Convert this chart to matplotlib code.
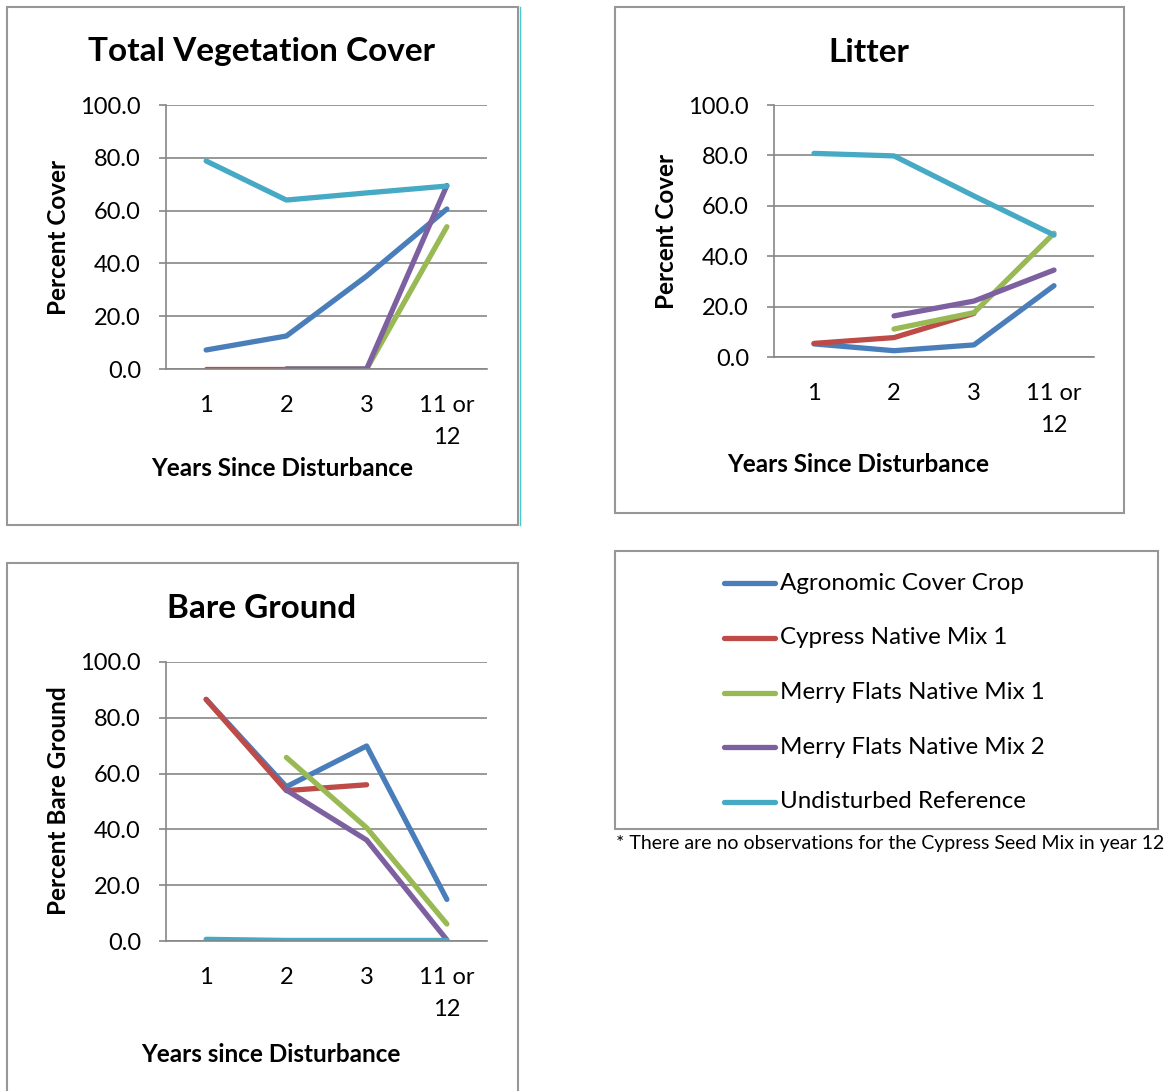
import numpy as np
import matplotlib
matplotlib.use("Agg")
import matplotlib.pyplot as plt
from matplotlib.patches import Rectangle
from matplotlib.lines import Line2D
from matplotlib.ticker import FormatStrFormatter

plt.rcParams["font.family"] = ["Lato", "DejaVu Sans"]

nan = np.nan

# category axis
years = ["1", "2", "3", "11 or\n12"]

series_names = [
    "Agronomic Cover Crop",
    "Cypress Native Mix 1",
    "Merry Flats Native Mix 1",
    "Merry Flats Native Mix 2",
    "Undisturbed Reference",
]

# Total vegetation cover (%)
veg_agronomic = [7.2, 12.5, 35.2, 60.6]
veg_cypress = [0.0, 0.0, 0.0, nan]
veg_merry1 = [nan, 0.0, 0.0, 53.9]
veg_merry2 = [nan, 0.0, 0.0, 69.5]
veg_reference = [78.8, 64.0, 66.7, 69.3]

# Litter cover (%)
litter_agronomic = [5.2, 2.5, 4.8, 28.3]
litter_cypress = [5.4, 7.7, 17.3, nan]
litter_merry1 = [nan, 11.1, 17.6, 49.1]
litter_merry2 = [nan, 16.3, 22.2, 34.5]
litter_reference = [80.8, 79.8, 63.9, 48.4]

# Bare ground (%)
bare_agronomic = [86.6, 55.3, 69.9, 14.9]
bare_cypress = [86.6, 53.9, 56.0, nan]
bare_merry1 = [nan, 65.8, 40.6, 6.1]
bare_merry2 = [nan, 54.1, 36.2, 0.4]
bare_reference = [0.6, 0.2, 0.2, 0.2]

colors = ["#4A7EBB", "#BE4B48", "#98B954", "#7D60A0", "#46AAC5"]

W, H = 1166, 1091
fig = plt.figure(figsize=(W / 100, H / 100), dpi=100)


def fx(px):
    return px / W


def fy(py):
    return 1 - py / H


def box(l, t, r, b, color="#979797"):
    fig.patches.append(Rectangle((fx(l), fy(b)), fx(r - l), (b - t) / H,
                                 transform=fig.transFigure, fill=False,
                                 edgecolor=color, linewidth=1.5))


def panel(l, t, r, b, data, title, title_xy, ylabel, ylabel_xy, xlabel, xlabel_xy):
    ax = fig.add_axes([fx(l), fy(b), fx(r - l), (b - t) / H])
    x = np.arange(len(years))
    for vals, c in zip(data, colors):
        ax.plot(x, vals, color=c, linewidth=3.8, solid_capstyle="round",
                solid_joinstyle="round")
    ax.set_xlim(-0.5, len(years) - 0.5)
    ax.set_ylim(0, 100)
    ax.set_yticks(np.arange(0, 101, 20))
    ax.yaxis.set_major_formatter(FormatStrFormatter("%.1f"))
    ax.set_xticks(x)
    ax.set_xticklabels(years, fontsize=17, linespacing=1.62)
    ax.tick_params(axis="x", length=0, pad=19)
    ax.tick_params(axis="y", length=5, color="#868686", width=1.2,
                   labelsize=17, pad=13)
    ax.grid(axis="y", color="#868686", linewidth=1.2)
    ax.set_axisbelow(True)
    for s in ["top", "right"]:
        ax.spines[s].set_visible(False)
    for s in ["left", "bottom"]:
        ax.spines[s].set_color("#868686")
        ax.spines[s].set_linewidth(1.2)
    fig.text(fx(title_xy[0]), fy(title_xy[1]), title, fontsize=24,
             fontweight="bold", ha="center", va="center")
    fig.text(fx(ylabel_xy[0]), fy(ylabel_xy[1]), ylabel, fontsize=17.5,
             fontweight="bold", ha="center", va="center", rotation=90)
    fig.text(fx(xlabel_xy[0]), fy(xlabel_xy[1]), xlabel, fontsize=17.5,
             fontweight="bold", ha="center", va="center")
    return ax


# panel frames
box(7, 7, 518, 525)
fig.lines.append(Line2D([fx(519.5), fx(519.5)], [fy(7), fy(525)],
                        transform=fig.transFigure, color="#46C8D0", linewidth=1))
box(615, 7, 1124, 513)
box(7, 563, 518, 1100)

panel(166, 105, 487, 369,
      [veg_agronomic, veg_cypress, veg_merry1, veg_merry2, veg_reference],
      "Total Vegetation Cover", (262, 52),
      "Percent Cover", (58, 237),
      "Years Since Disturbance", (282, 469))

panel(774, 105, 1094, 357,
      [litter_agronomic, litter_cypress, litter_merry1, litter_merry2, litter_reference],
      "Litter", (869, 52),
      "Percent Cover", (666, 231),
      "Years Since Disturbance", (858, 465))

panel(166, 662, 487, 941,
      [bare_agronomic, bare_cypress, bare_merry1, bare_merry2, bare_reference],
      "Bare Ground", (262, 608),
      "Percent Bare Ground", (58, 801),
      "Years since Disturbance", (271, 1055))

# shared legend
box(615, 551, 1158, 829)
for i, (name, c) in enumerate(zip(series_names, colors)):
    ly = 583 + i * 54.75
    fig.lines.append(Line2D([fx(724), fx(775)], [fy(ly), fy(ly)],
                            transform=fig.transFigure, color=c, linewidth=3.8,
                            solid_capstyle="round"))
    fig.text(fx(780), fy(ly), name, fontsize=17.4, ha="left", va="center")

fig.text(fx(616), fy(844), "* There are no observations for the Cypress Seed Mix in year 12",
         fontsize=14, ha="left", va="center")

fig.savefig("out.png", dpi=100)
